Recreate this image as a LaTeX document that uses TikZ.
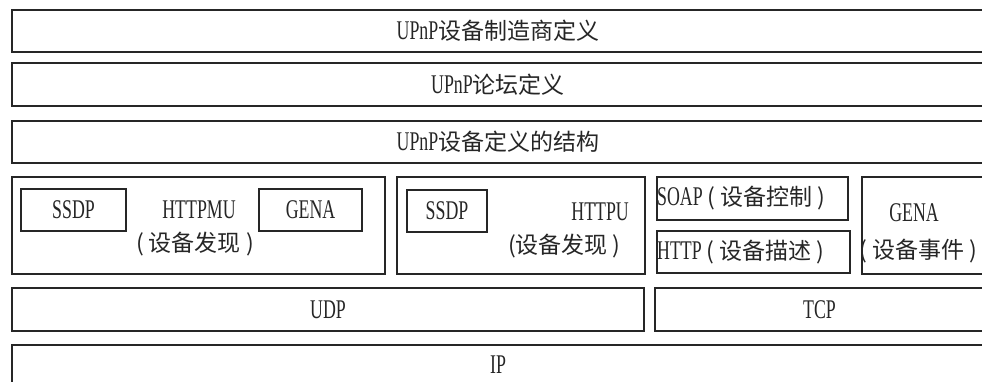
\documentclass[tikz,border=0pt]{standalone}
\usepackage{fontspec}
\setmainfont{Noto Sans CJK SC}
\newfontfamily\latfont[FakeStretch=0.66]{Liberation Serif}
\newcommand\lt[1]{{\latfont\fontsize{27}{29}\selectfont #1}}
\newcommand\lpr{\makebox[18pt]{(}}
\newcommand\rpr{\makebox[18pt]{)}}
\begin{document}
\begin{tikzpicture}[x=1pt,y=-1pt,
  box/.style={draw=black!85, line width=1.6pt, inner sep=0pt, fill=white},
  lbl/.style={inner sep=0pt, font=\fontsize{23}{25}\selectfont, text=black!85}]
\useasboundingbox (0,0) rectangle (982,382);
\fill[white] (0,0) rectangle (982,382);
\clip (0,0) rectangle (982,382);
% top three rows
\node[box, minimum width=972pt, minimum height=42pt] (r1) at (498,31) {};
\node[lbl] (t1) at (r1.center) {\lt{UPnP}设备制造商定义};
\node[box, minimum width=972pt, minimum height=43pt] (r2) at (498,84.5) {};
\node[lbl] (t2) at (r2.center) {\lt{UPnP}论坛定义};
\node[box, minimum width=972pt, minimum height=42pt] (r3) at (498,142) {};
\node[lbl] (t3) at (r3.center) {\lt{UPnP}设备定义的结构};
% row 4, box A
\node[box, minimum width=373pt, minimum height=97pt] (a) at (198.5,225.5) {};
\node[box, minimum width=105pt, minimum height=42pt] (assdp) at (73.5,210) {};
\node[lbl] (assdpt) at (assdp.center) {\lt{SSDP}};
\node[box, minimum width=103pt, minimum height=42pt] (agena) at (310.5,210) {};
\node[lbl] (agenat) at (agena.center) {\lt{GENA}};
\node[lbl] (ahttp) at (199,210) {\lt{HTTPMU}};
\node[lbl] (adisc) at (195,244) {\lpr 设备发现\rpr};
% row 4, box B
\node[box, minimum width=248pt, minimum height=97pt] (b) at (521,225.5) {};
\node[box, minimum width=80pt, minimum height=42pt] (bssdp) at (447,211) {};
\node[lbl] (bssdpt) at (bssdp.center) {\lt{SSDP}};
\node[lbl, anchor=east] (bhttp) at (629,211.5) {\lt{HTTPU}};
\node[lbl, anchor=east] (bdisc) at (626,246) {(设备发现\rpr};
% row 4, SOAP / HTTP / GENA
\node[box, minimum width=191pt, minimum height=43pt] (soap) at (752.5,198.5) {};
\node[lbl, anchor=west] (soapt) at (657,198) {\lt{SOAP}\lpr 设备控制\rpr};
\node[box, minimum width=193pt, minimum height=42pt] (http) at (753.5,252) {};
\node[lbl, anchor=west] (httpt) at (657,252) {\lt{HTTP}\lpr 设备描述\rpr};
\node[box, minimum width=122pt, minimum height=97pt] (gena) at (923,225.5) {};
\node[lbl] (genat) at (914,213) {\lt{GENA}};
\node[lbl, anchor=west] (genad) at (854,251) {\lpr 设备事件\rpr};
% row 5
\node[box, minimum width=632pt, minimum height=43pt] (udp) at (328,309.5) {};
\node[lbl] (udpt) at (udp.center) {\lt{UDP}};
\node[box, minimum width=329pt, minimum height=43pt] (tcp) at (819.5,309.5) {};
\node[lbl] (tcpt) at (tcp.center) {\lt{TCP}};
% row 6
\node[box, minimum width=972pt, minimum height=55pt] (ip) at (498,372.5) {};
\node[lbl] (ipt) at (498,365) {\lt{IP}};
\end{tikzpicture}
\end{document}
